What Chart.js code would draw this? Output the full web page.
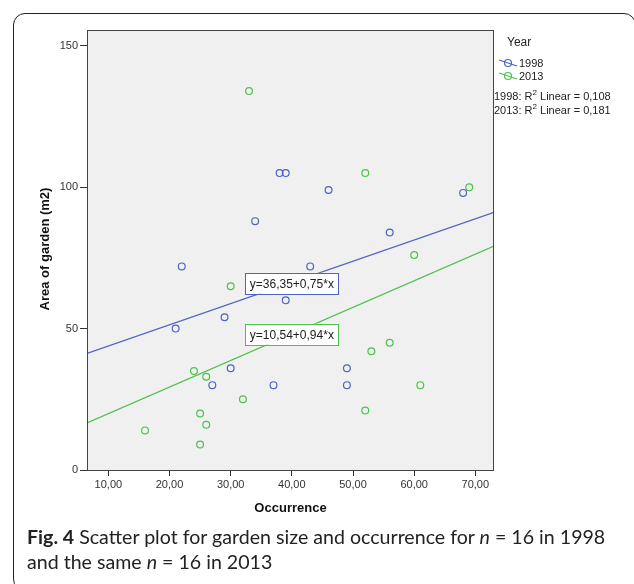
<!DOCTYPE html>
<html>
<head>
<meta charset="utf-8">
<script src="https://cdn.jsdelivr.net/npm/chart.js@4.4.1/dist/chart.umd.min.js"></script>
<style>
  body { margin: 0; background: #fff; width: 634px; height: 584px; overflow: hidden; position: relative; }
  #frame { position: absolute; left: 13px; top: 13px; width: 623px; height: 578px; border: 1.5px solid #222; border-radius: 12px; box-sizing: border-box; }
  #chart { position: absolute; left: 0; top: 0; }
  #caption { position: absolute; left: 27px; top: 524px; font-family: Lato, sans-serif; font-size: 19.6px; line-height: 25px; color: #222; }
  #caption b { font-weight: bold; }
</style>
</head>
<body>
<div id="frame"></div>
<canvas id="chart" width="634" height="525"></canvas>
<div id="caption"><b>Fig. 4</b> Scatter plot for garden size and occurrence for <i>n</i> = 16 in 1998<br>and the same <i>n</i> = 16 in 2013</div>
<script>
// Occurrence (x) and area of garden in m2 (y)
const years = ['1998', '2013'];
const x1998 = [38, 39, 46, 68, 34, 56, 22, 43, 39, 29, 21, 30, 27, 37, 49, 49];
const y1998 = [105, 105, 99, 98, 88, 84, 72, 72, 60, 54, 50, 36, 30, 30, 36, 30];
const x2013 = [33, 52, 69, 60, 30, 24, 26, 32, 25, 26, 16, 25, 53, 56, 61, 52];
const y2013 = [134, 105, 100, 76, 65, 35, 33, 25, 20, 16, 14, 9, 42, 45, 30, 21];

// linear fit lines as printed on the chart
const fitIntercept = [36.35, 10.54];
const fitSlope = [0.75, 0.94];
const fitR2 = ['0,108', '0,181'];

const xTicks = [10, 20, 30, 40, 50, 60, 70];
const yTicks = [0, 50, 100, 150];
const xMin = 6.51, xMax = 73.05;
const yMin = 0, yMax = 155.6;

const colors = ['#4f63c2', '#4cc24c'];
const font = '"Liberation Sans", Arial, sans-serif';

const comma = v => v.toFixed(2).replace('.', ',');

function points(xs, ys) {
    return xs.map((x, i) => ({ x: x, y: ys[i] }));
}

function fitLine(i) {
    return [
        { x: xMin, y: fitIntercept[i] + fitSlope[i] * xMin },
        { x: xMax, y: fitIntercept[i] + fitSlope[i] * xMax }
    ];
}

const decor = {
    id: 'decor',
    beforeDraw(chart) {
        const { ctx, chartArea: a } = chart;
        ctx.save();
        ctx.fillStyle = '#f0f0f0';
        ctx.fillRect(a.left, a.top, a.right - a.left, a.bottom - a.top);
        ctx.restore();
    },
    afterDraw(chart) {
        const { ctx, chartArea: a, scales } = chart;
        ctx.save();

        // plot border
        ctx.strokeStyle = '#444';
        ctx.lineWidth = 1;
        ctx.strokeRect(a.left + 0.5, a.top + 0.5, a.right - a.left - 1, a.bottom - a.top);

        // equation boxes
        ctx.font = '12px ' + font;
        ctx.textBaseline = 'middle';
        ctx.textAlign = 'center';
        const boxY = [66, 48];
        years.forEach((yr, i) => {
            const text = 'y=' + comma(fitIntercept[i]) + '+' + comma(fitSlope[i]) + '*x';
            const cx = scales.x.getPixelForValue(40);
            const cy = scales.y.getPixelForValue(boxY[i]);
            const w = ctx.measureText(text).width + 9;
            const h = 21;
            ctx.fillStyle = '#fff';
            ctx.fillRect(cx - w / 2, cy - h / 2, w, h);
            ctx.strokeStyle = colors[i];
            ctx.strokeRect(Math.round(cx - w / 2) + 0.5, Math.round(cy - h / 2) + 0.5, Math.round(w), h);
            ctx.fillStyle = '#222';
            ctx.fillText(text, cx, cy + 1);
        });

        // axis titles
        ctx.fillStyle = '#111';
        ctx.font = 'bold 13px ' + font;
        ctx.fillText('Occurrence', (a.left + a.right) / 2, 508);
        ctx.save();
        ctx.translate(45, 249);
        ctx.rotate(-Math.PI / 2);
        ctx.fillText('Area of garden (m2)', 0, 0);
        ctx.restore();

        // legend
        ctx.textAlign = 'left';
        ctx.fillStyle = '#222';
        ctx.font = '12px ' + font;
        ctx.fillText('Year', 507, 43);
        ctx.font = '11px ' + font;
        years.forEach((yr, i) => {
            const y = 63 + i * 13;
            ctx.strokeStyle = colors[i];
            ctx.lineWidth = 1.2;
            ctx.beginPath();
            ctx.moveTo(499, y - 3);
            ctx.lineTo(517, y + 3);
            ctx.stroke();
            ctx.beginPath();
            ctx.arc(508, y, 3.5, 0, Math.PI * 2);
            ctx.stroke();
            ctx.fillStyle = '#222';
            ctx.fillText(yr, 519, y + 1);
        });
        years.forEach((yr, i) => {
            const y = 97 + i * 14;
            let x = 494;
            ctx.font = '11px ' + font;
            ctx.fillText(yr + ': R', x, y);
            x += ctx.measureText(yr + ': R').width;
            ctx.font = '8px ' + font;
            ctx.fillText('2', x, y - 4);
            x += ctx.measureText('2').width;
            ctx.font = '11px ' + font;
            ctx.fillText(' Linear = ' + fitR2[i], x, y);
        });
        ctx.restore();
    }
};

new Chart(document.getElementById('chart'), {
    type: 'scatter',
    data: {
        datasets: [
            { label: years[0], data: points(x1998, y1998), borderColor: colors[0], backgroundColor: 'rgba(0,0,0,0)', pointRadius: 3.4, borderWidth: 1.2 },
            { label: years[1], data: points(x2013, y2013), borderColor: colors[1], backgroundColor: 'rgba(0,0,0,0)', pointRadius: 3.4, borderWidth: 1.2 },
            { type: 'line', label: 'fit ' + years[0], data: fitLine(0), borderColor: colors[0], borderWidth: 1.3, pointRadius: 0, fill: false },
            { type: 'line', label: 'fit ' + years[1], data: fitLine(1), borderColor: colors[1], borderWidth: 1.3, pointRadius: 0, fill: false }
        ]
    },
    options: {
        responsive: false,
        animation: false,
        layout: { padding: { left: 0, top: 30, right: 140, bottom: 0 } },
        plugins: { legend: { display: false }, tooltip: { enabled: false } },
        scales: {
            x: {
                type: 'linear',
                min: xMin,
                max: xMax,
                afterBuildTicks: s => { s.ticks = xTicks.map(v => ({ value: v })); },
                afterFit: s => { s.height = 55; },
                grid: { drawOnChartArea: false, drawTicks: true, tickLength: 6, color: '#333' },
                border: { display: false },
                ticks: { color: '#333', font: { family: font, size: 11 }, padding: 2, callback: v => comma(v), maxRotation: 0 }
            },
            y: {
                type: 'linear',
                min: yMin,
                max: yMax,
                afterBuildTicks: s => { s.ticks = yTicks.map(v => ({ value: v })); },
                afterFit: s => { s.width = 87; },
                grid: { drawOnChartArea: false, drawTicks: true, tickLength: 7, color: '#333' },
                border: { display: false },
                ticks: { color: '#333', font: { family: font, size: 11 }, padding: 2 }
            }
        }
    },
    plugins: [decor]
});
</script>
</body>
</html>
